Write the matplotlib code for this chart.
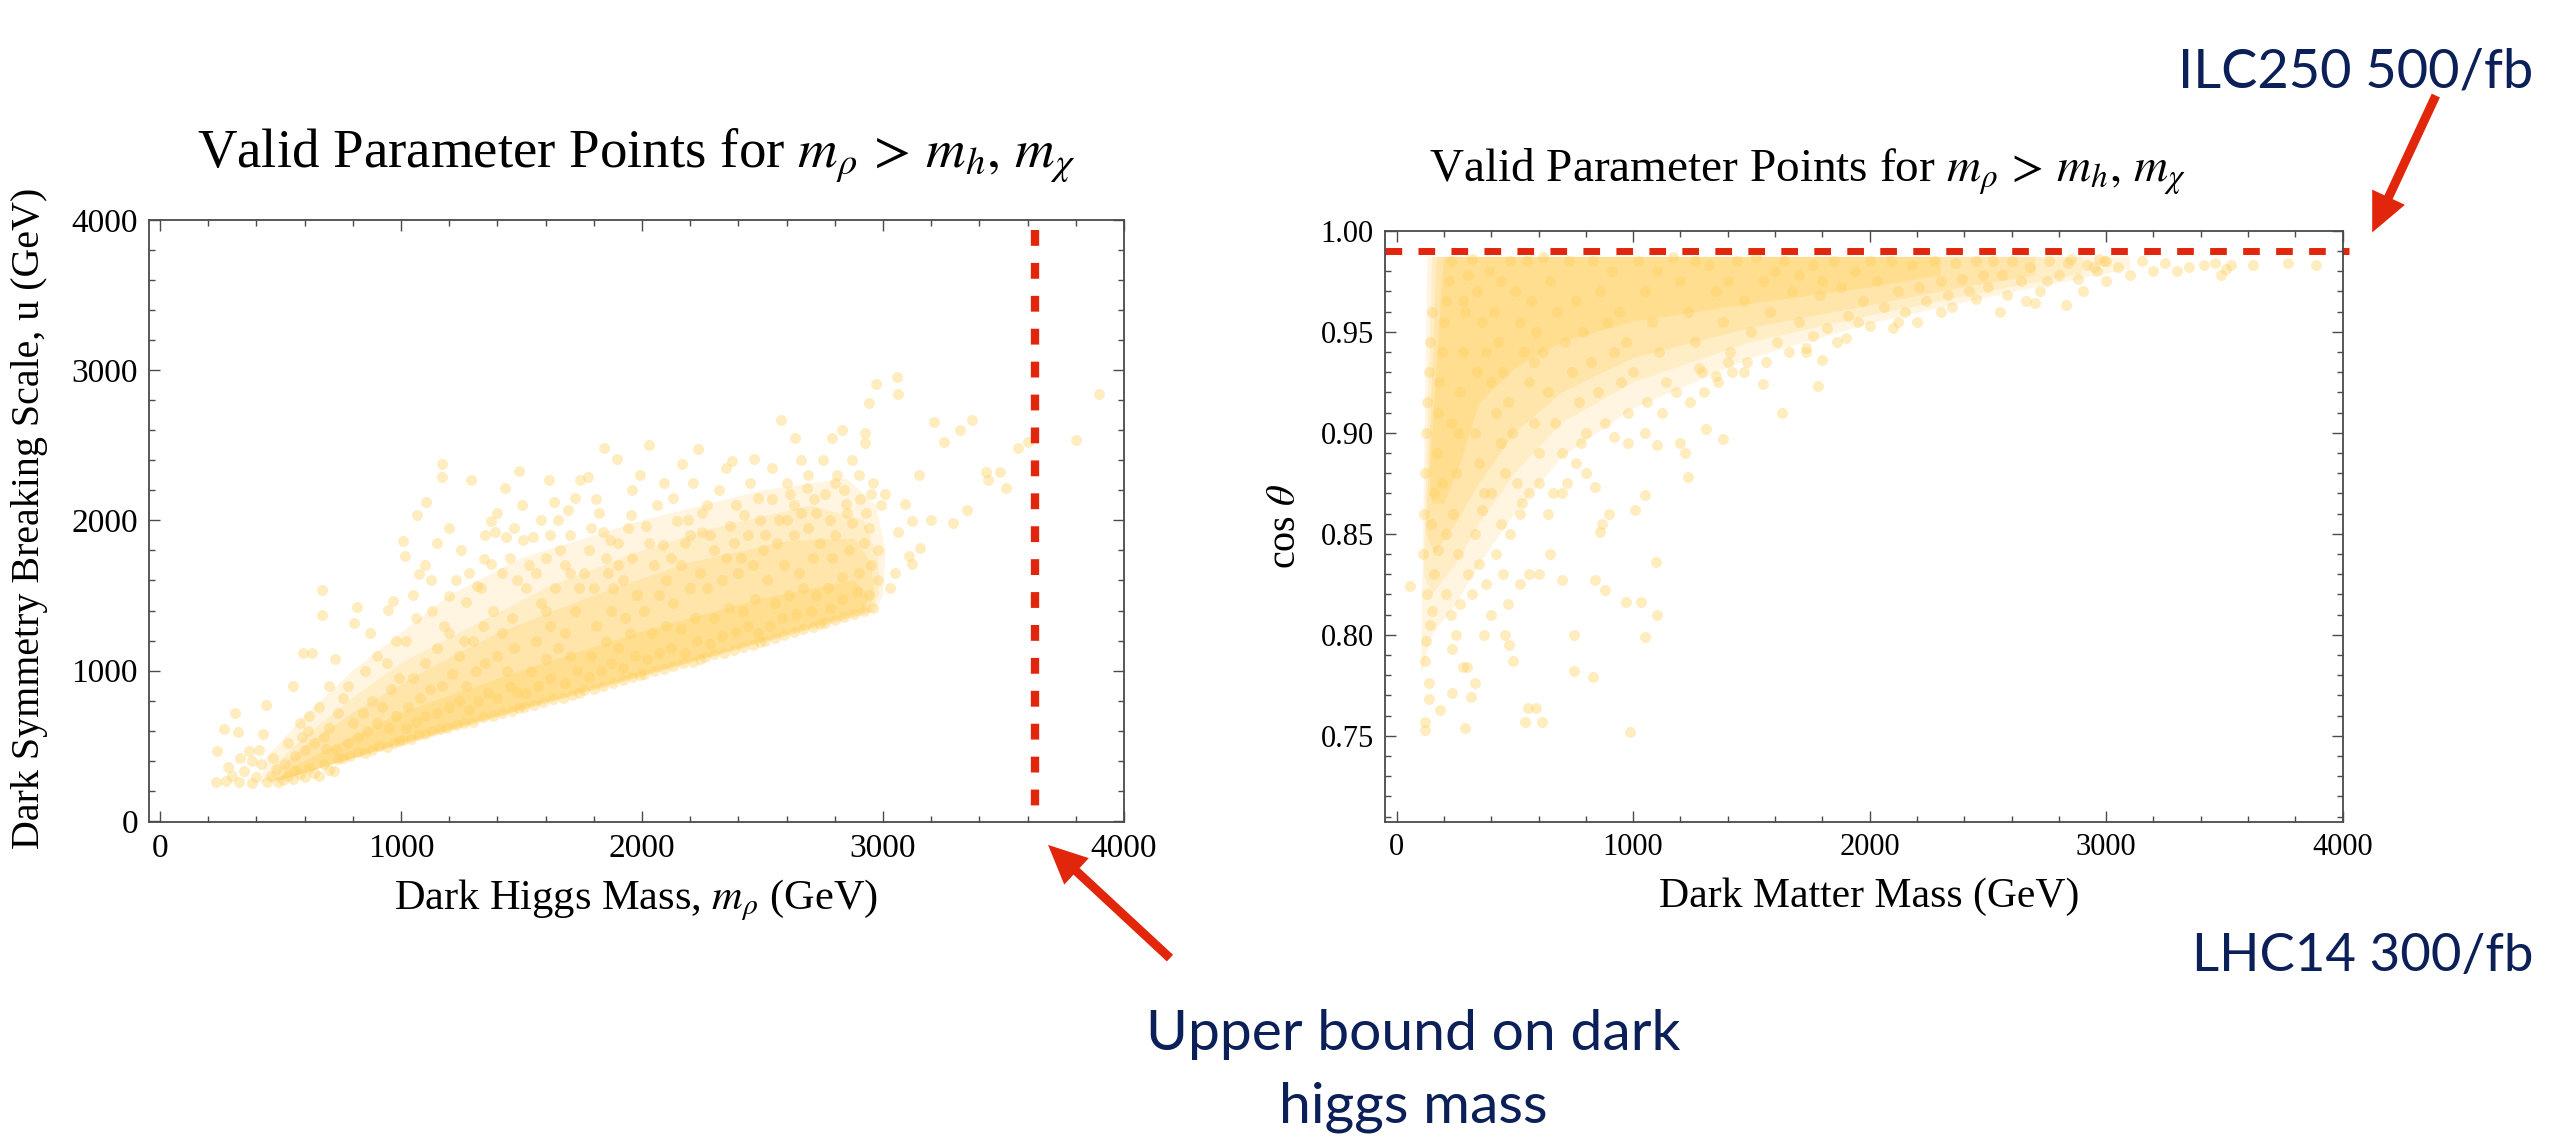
import numpy as np
import matplotlib
matplotlib.use("Agg")
import matplotlib.pyplot as plt
from matplotlib.patches import FancyArrowPatch
from matplotlib.ticker import MultipleLocator, FormatStrFormatter

# ---------------------------------------------------------------
# datos
# ---------------------------------------------------------------
# panel izquierdo: masa del higgs oscuro (GeV) vs escala u (GeV)
higgs_pts = [
    (232, 259), (273, 262), (327, 258), (381, 252), (443, 255), (300, 300), (350, 330), (400, 290),
    (420, 380), (460, 300), (480, 342), (470, 420), (309, 720), (265, 612), (324, 594), (236, 468),
    (367, 468), (426, 576), (440, 774), (380, 400), (330, 420), (410, 470), (490, 260), (280, 360),
    (510, 270), (530, 300), (550, 280), (560, 340), (580, 310), (600, 290), (620, 350), (640, 320),
    (660, 300), (680, 380), (700, 340), (720, 330), (740, 410), (520, 380), (560, 430), (600, 470),
    (640, 520), (680, 560), (700, 620), (730, 480), (590, 560), (551, 900), (592, 1116), (630, 1116),
    (726, 1080), (673, 1368), (673, 1537), (620, 700), (660, 760), (700, 900), (740, 720), (580, 650),
    (530, 520), (690, 480), (615, 600),
    (760, 420), (790, 430), (820, 460), (850, 450), (880, 470), (910, 500), (940, 490), (970, 520),
    (990, 530), (780, 520), (820, 560), (860, 600), (900, 650), (950, 620), (980, 700), (800, 650),
    (840, 720), (880, 800), (920, 760), (960, 880), (990, 950), (819, 1422), (805, 1314), (945, 1404),
    (965, 1465), (850, 1000), (900, 1100), (780, 900), (760, 820), (940, 1050), (980, 1200), (870, 1250),
    (1010, 540), (1040, 545), (1070, 570), (1100, 580), (1130, 600), (1160, 610), (1190, 620), (1230, 640),
    (1020, 620), (1060, 660), (1100, 700), (1150, 720), (1200, 760), (1240, 800), (1030, 760), (1080, 820),
    (1120, 880), (1170, 900), (1210, 980), (1050, 950), (1100, 1050), (1150, 1150), (1200, 1250), (1240, 1100),
    (1017, 1764), (1076, 1645), (1009, 1861), (1067, 2034), (1105, 2124), (1169, 2376), (1169, 2286),
    (1125, 1602), (1198, 1494), (1227, 1602), (1060, 1350), (1130, 1400), (1180, 1300), (1020, 1200),
    (1260, 650), (1300, 660), (1340, 690), (1380, 700), (1420, 720), (1460, 730), (1490, 750), (1280, 740),
    (1320, 800), (1360, 850), (1400, 820), (1450, 900), (1480, 860), (1270, 900), (1310, 1000), (1350, 1050),
    (1400, 1100), (1440, 1000), (1470, 1150), (1300, 1200), (1340, 1300), (1380, 1400), (1420, 1250),
    (1460, 1350), (1271, 1458), (1315, 1566), (1344, 1746), (1373, 1710), (1373, 1998), (1388, 1926),
    (1437, 1890), (1292, 2268), (1432, 2214), (1490, 2329), (1480, 1600), (1420, 1650), (1260, 1200),
    (1510, 760), (1550, 770), (1590, 790), (1630, 810), (1670, 820), (1710, 840), (1740, 850), (1520, 850),
    (1570, 900), (1620, 950), (1680, 920), (1730, 1000), (1540, 1000), (1600, 1080), (1650, 1150),
    (1700, 1100), (1560, 1200), (1620, 1300), (1680, 1250), (1720, 1400), (1580, 1450), (1640, 1550),
    (1700, 1650), (1504, 1872), (1548, 1890), (1612, 2268), (1636, 2124), (1694, 2070), (1743, 2268),
    (1530, 1700), (1600, 1750), (1660, 1800), (1740, 1550),
    (1760, 870), (1800, 880), (1840, 900), (1880, 920), (1920, 940), (1960, 960), (1990, 970), (1780, 960),
    (1830, 1000), (1870, 1050), (1920, 1020), (1970, 1100), (1790, 1100), (1850, 1200), (1900, 1150),
    (1950, 1250), (1810, 1300), (1870, 1400), (1930, 1350), (1980, 1500), (1800, 1550), (1860, 1650),
    (1920, 1600), (1960, 1750), (1775, 2286), (1811, 2142), (1843, 2484), (1898, 2412), (1840, 1926),
    (1869, 1872), (1956, 2034), (1780, 1800),
    (2010, 980), (2050, 1000), (2090, 1010), (2130, 1030), (2170, 1050), (2210, 1060), (2240, 1080),
    (2020, 1080), (2070, 1120), (2120, 1150), (2180, 1120), (2230, 1200), (2040, 1250), (2100, 1300),
    (2160, 1280), (2220, 1350), (2010, 1400), (2070, 1500), (2130, 1450), (2200, 1550), (2240, 1650),
    (2050, 1700), (2120, 1750), (2180, 1850), (2015, 1962), (2029, 2502), (2087, 1836), (2146, 1998),
    (2166, 2376), (2233, 2477), (2248, 1926), (2100, 1600),
    (2260, 1090), (2300, 1110), (2340, 1120), (2380, 1140), (2420, 1160), (2460, 1170), (2490, 1190),
    (2280, 1180), (2330, 1230), (2390, 1260), (2440, 1300), (2480, 1250), (2300, 1350), (2360, 1420),
    (2420, 1400), (2470, 1480), (2270, 1550), (2330, 1600), (2400, 1650), (2460, 1700), (2300, 1800),
    (2380, 1850), (2440, 1900), (2490, 2000), (2364, 1962), (2373, 2394), (2423, 2034), (2464, 2412),
    (2270, 2100), (2350, 1750),
    (2510, 1200), (2550, 1220), (2590, 1240), (2630, 1260), (2670, 1280), (2710, 1290), (2740, 1310),
    (2530, 1300), (2580, 1350), (2640, 1380), (2700, 1400), (2550, 1450), (2610, 1500), (2670, 1550),
    (2720, 1500), (2520, 1600), (2590, 1700), (2650, 1650), (2710, 1750), (2560, 1850), (2630, 1900),
    (2690, 1950), (2740, 1850), (2539, 2142), (2577, 2671), (2612, 2178), (2635, 2546), (2685, 2214),
    (2714, 2142), (2600, 2000), (2660, 2050),
    (2760, 1320), (2800, 1340), (2840, 1360), (2880, 1380), (2920, 1400), (2960, 1420), (2780, 1420),
    (2830, 1480), (2890, 1520), (2940, 1500), (2770, 1550), (2830, 1620), (2900, 1650), (2950, 1700),
    (2790, 1750), (2860, 1800), (2920, 1850), (2980, 1800), (2800, 1900), (2870, 1980), (2940, 1950),
    (2758, 2178), (2787, 2546), (2831, 2603), (2846, 2106), (2904, 2142), (2927, 2581), (2927, 2513),
    (2942, 2783), (2950, 2178), (2971, 2909), (2850, 2050), (2980, 1600),
    (3009, 2178), (3058, 2952), (3064, 2844), (3064, 1926), (3093, 2106), (3108, 1764), (3122, 1998),
    (3122, 1710), (3152, 1818), (3030, 1550), (3050, 1650), (3210, 2653), (3254, 2520), (3291, 1980),
    (3318, 2603), (3347, 2070), (3370, 2671), (3428, 2322), (3437, 2268), (3487, 2322), (3510, 2214),
    (3560, 2484), (3603, 2520), (3802, 2538), (3895, 2844), (3200, 2000), (3150, 2300),
    # nube superior
    (1050, 1500), (1100, 1700), (1150, 1850), (1200, 1950), (1250, 1800), (1280, 1650), (1330, 1550),
    (1350, 1900), (1400, 2050), (1450, 1750), (1470, 1950), (1500, 2100), (1520, 1550), (1560, 1650),
    (1580, 2000), (1620, 1900), (1650, 2000), (1680, 1700), (1700, 1900), (1720, 2150), (1760, 1650),
    (1790, 1950), (1820, 2050), (1850, 1750), (1880, 1550), (1900, 1850), (1940, 1950), (1960, 2200),
    (1990, 2300), (2030, 1850), (2060, 2100), (2090, 2250), (2130, 2150), (2160, 1700), (2190, 2000),
    (2210, 2250), (2250, 2050), (2280, 1900), (2320, 2200), (2350, 2350), (2390, 2100), (2410, 1750),
    (2450, 2250), (2480, 2150), (2510, 1900), (2540, 2350), (2570, 2000), (2600, 2250), (2630, 2100),
    (2660, 2400), (2690, 2300), (2720, 2050), (2750, 2400), (2780, 2000), (2810, 2300), (2840, 2200),
    (2870, 2400), (2900, 2300), (2930, 2050), (2960, 2250), (2990, 2100), (1600, 1400), (1900, 1700),
    (2200, 1900), (2500, 1800), (2800, 2250),
]

# zonas de densidad de puntos (contornos leidos a ojo), de menos a mas densa
higgs_z1_m = [420, 1000, 1500, 2000, 2500, 2960, 3000, 3010, 2970, 2850, 2500, 2000, 1500, 1200, 1000, 800, 600, 440]
higgs_z1_u = [255, 505, 735, 960, 1185, 1390, 1500, 1800, 2100, 2280, 2200, 2000, 1750, 1500, 1250, 1000, 700, 420]
higgs_z2_m = [450, 1000, 1500, 2000, 2500, 2950, 2985, 2980, 2920, 2700, 2300, 2000, 1600, 1300, 1000, 800, 600, 470]
higgs_z2_u = [258, 508, 738, 963, 1188, 1392, 1520, 1750, 2000, 2100, 1950, 1800, 1550, 1300, 1050, 820, 560, 360]
higgs_z3_m = [480, 1000, 1500, 2000, 2500, 2940, 2965, 2950, 2880, 2600, 2200, 1800, 1400, 1100, 800, 600, 490]
higgs_z3_u = [262, 512, 742, 967, 1192, 1396, 1520, 1720, 1880, 1860, 1720, 1500, 1250, 1000, 720, 500, 340]
higgs_z4_m = [500, 1000, 1500, 2000, 2500, 2920, 2940, 2880, 2500, 2000, 1500, 1000, 700, 520]
higgs_z4_u = [270, 520, 750, 975, 1200, 1400, 1500, 1600, 1480, 1260, 1000, 720, 480, 330]

# panel derecho: masa de materia oscura (GeV) vs cos theta
dm_pts = [
    (55, 0.824), (120, 0.753), (120, 0.757), (136, 0.768), (136, 0.776), (185, 0.763), (233, 0.771),
    (291, 0.754), (282, 0.784), (330, 0.776), (233, 0.793), (369, 0.800), (460, 0.800), (476, 0.795),
    (751, 0.800), (832, 0.779), (985, 0.752), (968, 0.816), (1033, 0.816), (1049, 0.799), (1101, 0.810),
    (1098, 0.836), (557, 0.764), (615, 0.757), (541, 0.757), (589, 0.764), (751, 0.782), (492, 0.787),
    (298, 0.784), (314, 0.769), (120, 0.787), (125, 0.797), (140, 0.805), (150, 0.812), (130, 0.820),
    (160, 0.830), (175, 0.842), (210, 0.820), (230, 0.810), (250, 0.800), (270, 0.815), (300, 0.830),
    (320, 0.820), (350, 0.835), (380, 0.825), (400, 0.810), (420, 0.840), (450, 0.830), (470, 0.815),
    (520, 0.825), (560, 0.830), (600, 0.830), (650, 0.840), (700, 0.827), (840, 0.827), (880, 0.822),
    (860, 0.851), (870, 0.855), (900, 0.860), (840, 0.873), (800, 0.880), (760, 0.885), (700, 0.870),
    (640, 0.860), (600, 0.875), (560, 0.870), (520, 0.860), (480, 0.850), (440, 0.855), (400, 0.870),
    (360, 0.862), (330, 0.850), (1050, 0.869), (1010, 0.862), (1230, 0.878), (1310, 0.902), (1380, 0.897),
    (1200, 0.895), (1220, 0.890), (1100, 0.894), (1050, 0.900), (980, 0.895), (920, 0.898), (1630, 0.910),
    (1780, 0.923), (1550, 0.924), (1470, 0.930), (1400, 0.935), (1350, 0.928), (1280, 0.932), (1800, 0.936),
    (1730, 0.942), (1900, 0.947), (2000, 0.953), (2120, 0.955), (2300, 0.960), (2550, 0.960), (2700, 0.964),
    (2830, 0.963), (2900, 0.970), (3000, 0.975), (3100, 0.978), (3200, 0.980), (3250, 0.984), (3350, 0.982),
    (3000, 0.985), (3050, 0.982), (3150, 0.985), (2950, 0.982), (3300, 0.980), (2970, 0.986),
    (3415, 0.983), (3462, 0.984), (3487, 0.978), (3507, 0.981), (3529, 0.983), (3622, 0.983), (3769, 0.984),
    (3888, 0.983),
    (110, 0.840), (115, 0.860), (120, 0.880), (125, 0.900), (130, 0.915), (135, 0.930), (140, 0.945),
    (150, 0.960), (160, 0.870), (170, 0.890), (175, 0.910), (180, 0.925), (190, 0.940), (200, 0.955),
    (210, 0.965), (220, 0.975), (230, 0.985), (240, 0.860), (250, 0.880), (260, 0.900), (270, 0.920),
    (280, 0.940), (290, 0.960), (300, 0.978), (210, 0.850), (260, 0.840), (145, 0.855), (190, 0.875),
    (230, 0.905), (280, 0.965),
    (320, 0.986), (340, 0.970), (360, 0.955), (380, 0.940), (400, 0.925), (420, 0.910), (440, 0.895),
    (460, 0.880), (480, 0.985), (500, 0.970), (520, 0.955), (540, 0.940), (560, 0.925), (580, 0.905),
    (600, 0.890), (330, 0.900), (350, 0.885), (370, 0.870), (390, 0.980), (410, 0.960), (430, 0.945),
    (450, 0.930), (470, 0.915), (490, 0.900), (510, 0.875), (530, 0.865), (550, 0.985), (570, 0.965),
    (590, 0.950), (340, 0.930), (440, 0.975), (580, 0.935),
    (620, 0.987), (650, 0.975), (680, 0.960), (710, 0.945), (740, 0.930), (770, 0.915), (800, 0.900),
    (830, 0.985), (860, 0.970), (890, 0.955), (920, 0.940), (950, 0.925), (980, 0.910), (640, 0.920),
    (670, 0.905), (700, 0.890), (730, 0.985), (760, 0.965), (790, 0.950), (820, 0.935), (850, 0.920),
    (880, 0.905), (910, 0.980), (940, 0.960), (970, 0.945), (1000, 0.930), (620, 0.940), (660, 0.870),
    (720, 0.875), (780, 0.895),
    (1020, 0.985), (1050, 0.970), (1080, 0.955), (1110, 0.940), (1140, 0.925), (1170, 0.987), (1200, 0.975),
    (1230, 0.960), (1260, 0.945), (1290, 0.930), (1320, 0.983), (1350, 0.970), (1380, 0.955), (1410, 0.940),
    (1440, 0.985), (1470, 0.965), (1500, 0.950), (1060, 0.915), (1120, 0.910), (1180, 0.920), (1240, 0.915),
    (1300, 0.920), (1360, 0.925), (1420, 0.930), (1480, 0.935), (1100, 0.980), (1260, 0.985), (1400, 0.975),
    (1520, 0.987), (1550, 0.975), (1580, 0.960), (1610, 0.945), (1640, 0.985), (1670, 0.970), (1700, 0.955),
    (1730, 0.940), (1760, 0.983), (1790, 0.968), (1820, 0.952), (1850, 0.985), (1880, 0.972), (1910, 0.958),
    (1940, 0.980), (1970, 0.965), (2000, 0.985), (1560, 0.935), (1660, 0.940), (1760, 0.948), (1860, 0.945),
    (1950, 0.955), (1600, 0.980), (1700, 0.978), (1800, 0.975),
    (2030, 0.975), (2060, 0.962), (2090, 0.985), (2120, 0.970), (2150, 0.960), (2180, 0.983), (2210, 0.972),
    (2240, 0.965), (2270, 0.985), (2300, 0.975), (2330, 0.968), (2360, 0.984), (2390, 0.976), (2420, 0.970),
    (2450, 0.985), (2480, 0.978), (2100, 0.952), (2200, 0.955), (2350, 0.962), (2450, 0.966), (2500, 0.972),
    (2520, 0.985), (2560, 0.978), (2600, 0.985), (2640, 0.975), (2680, 0.982), (2720, 0.970), (2760, 0.985),
    (2800, 0.978), (2840, 0.984), (2880, 0.976), (2920, 0.983), (2960, 0.980), (2580, 0.968), (2660, 0.965),
    (2750, 0.975), (2850, 0.986), (2990, 0.985),
]

dm_z1_m = [105, 130, 3100, 3100, 2700, 2300, 2000, 1500, 1000, 700, 500, 350, 250, 150, 105]
dm_z1_c = [0.800, 0.987, 0.987, 0.981, 0.972, 0.962, 0.954, 0.937, 0.912, 0.888, 0.860, 0.835, 0.815, 0.800, 0.780]
dm_z2_m = [115, 150, 2900, 2900, 2500, 2000, 1500, 1000, 700, 500, 350, 250, 150, 115]
dm_z2_c = [0.830, 0.987, 0.987, 0.979, 0.970, 0.958, 0.945, 0.925, 0.905, 0.880, 0.855, 0.835, 0.820, 0.830]
dm_z3_m = [125, 170, 2700, 2700, 2300, 2000, 1500, 1000, 700, 500, 350, 250, 160, 125]
dm_z3_c = [0.850, 0.987, 0.987, 0.978, 0.970, 0.963, 0.952, 0.937, 0.920, 0.900, 0.875, 0.855, 0.840, 0.850]
dm_z4_m = [140, 200, 2300, 2300, 2000, 1500, 1000, 700, 500, 350, 270, 200, 150]
dm_z4_c = [0.880, 0.987, 0.987, 0.978, 0.972, 0.964, 0.955, 0.945, 0.932, 0.915, 0.885, 0.865, 0.865]

# limites marcados en rojo
higgs_mass_bound = 3630     # GeV, cota superior
higgs_bound_top = 3935
ilc_cos_limit = 0.99        # ILC250 500/fb

# ---------------------------------------------------------------
PUNTO = "#FFD060"
ROJO = "#E2260C"
AZUL = "#0B1F58"
GRIS = "#4a4a4a"
ZONAS = ["#FFF5E1", "#FFEDC6", "#FFE5AA", "#FFDE90"]

plt.rcParams["font.family"] = ["Liberation Serif", "DejaVu Serif"]
plt.rcParams["mathtext.fontset"] = "stix"

W, H = 2553, 1138
fig = plt.figure(figsize=(W / 100, H / 100), dpi=100)


def px(x, y):
    # pixeles de la imagen (origen arriba-izquierda) -> fraccion de figura
    return x / W, 1 - y / H


def estilo_ejes(ax, size, xminor, yminor):
    for s in ax.spines.values():
        s.set_color(GRIS)
        s.set_linewidth(1.3)
        s.set_zorder(5)
    ax.xaxis.set_minor_locator(MultipleLocator(xminor))
    ax.yaxis.set_minor_locator(MultipleLocator(yminor))
    ax.tick_params(which="both", direction="in", top=True, right=True, color=GRIS, width=1.0)
    ax.tick_params(which="major", length=8, labelsize=size, pad=8)
    ax.tick_params(which="minor", length=4.3)


def zonas(ax, capas):
    for (xs, ys), c in zip(capas, ZONAS):
        ax.fill(xs, ys, color=c, lw=0, zorder=1)


# ---------------- panel izquierdo ----------------
x0, y0 = px(149, 822)
x1, y1 = px(1124, 220)
ax1 = fig.add_axes([x0, y0, x1 - x0, y1 - y0])
zonas(ax1, [(higgs_z1_m, higgs_z1_u), (higgs_z2_m, higgs_z2_u),
            (higgs_z3_m, higgs_z3_u), (higgs_z4_m, higgs_z4_u)])
hp = np.array(higgs_pts)
ax1.scatter(hp[:, 0], hp[:, 1], s=62, color=PUNTO, alpha=0.4, lw=0, zorder=2)
ax1.plot([higgs_mass_bound, higgs_mass_bound], [higgs_bound_top, 0], color=ROJO, lw=6,
         linestyle=(0, (1.9, 2.05)), zorder=4)
ax1.set_xlim(-46, 4000)
ax1.set_ylim(-8, 4000)
ax1.set_xticks([0, 1000, 2000, 3000, 4000])
ax1.set_yticks([0, 1000, 2000, 3000, 4000])
estilo_ejes(ax1, 24, 200, 200)

# ---------------- panel derecho ----------------
x0, y0 = px(1385, 822.3)
x1, y1 = px(2342.7, 230.7)
ax2 = fig.add_axes([x0, y0, x1 - x0, y1 - y0])
zonas(ax2, [(dm_z1_m, dm_z1_c), (dm_z2_m, dm_z2_c), (dm_z3_m, dm_z3_c), (dm_z4_m, dm_z4_c)])
dp = np.array(dm_pts)
ax2.scatter(dp[:, 0], dp[:, 1], s=62, color=PUNTO, alpha=0.4, lw=0, zorder=2)
ax2.hlines(ilc_cos_limit, -49, 4025, color=ROJO, lw=5, linestyle=(0, (2.4, 2.35)), zorder=4, clip_on=False)
ax2.set_xlim(-49, 4000)
ax2.set_ylim(0.7072, 1.0)
ax2.set_xticks([0, 1000, 2000, 3000, 4000])
ax2.set_yticks([0.75, 0.80, 0.85, 0.90, 0.95, 1.00])
ax2.yaxis.set_major_formatter(FormatStrFormatter("%.2f"))
estilo_ejes(ax2, 22, 200, 0.01)

# ---------------- textos ----------------
titulo = r"Valid Parameter Points for $m_\rho\,>\,m_h,\,m_\chi$"
fig.text(*px(636, 168), titulo, fontsize=39.5, ha="center", va="baseline")
fig.text(*px(1807, 182), titulo, fontsize=34, ha="center", va="baseline")
fig.text(*px(636, 900), r"Dark Higgs Mass, $m_\rho$ (GeV)", fontsize=30.5, ha="center", va="center")
fig.text(*px(1869, 897), "Dark Matter Mass (GeV)", fontsize=30, ha="center", va="center")
fig.text(*px(30, 518), "Dark Symmetry Breaking Scale, u (GeV)", fontsize=28.8, rotation=90,
         ha="center", va="center")
fig.text(*px(1286, 526), r"cos $\theta$", fontsize=29, rotation=90, ha="center", va="center")

anot = dict(color=AZUL, family=["Lato", "DejaVu Sans"])
fig.text(*px(2533, 72), "ILC250 500/fb", fontsize=39, ha="right", va="center", **anot)
fig.text(*px(2533, 957), "LHC14 300/fb", fontsize=38, ha="right", va="center", **anot)
fig.text(*px(1413, 1035), "Upper bound on dark", fontsize=41, ha="center", va="center", **anot)
fig.text(*px(1413, 1107), "higgs mass", fontsize=41, ha="center", va="center", **anot)

# flechas rojas
for cola, punta in [((1172, 960), (1046, 843)), ((2437, 93), (2371, 235))]:
    flecha = FancyArrowPatch(px(*cola), px(*punta), transform=fig.transFigure,
                             arrowstyle="simple,head_length=28,head_width=26,tail_width=6.5",
                             mutation_scale=1, color=ROJO, lw=0)
    fig.patches.append(flecha)

fig.savefig("out.png", dpi=100)
